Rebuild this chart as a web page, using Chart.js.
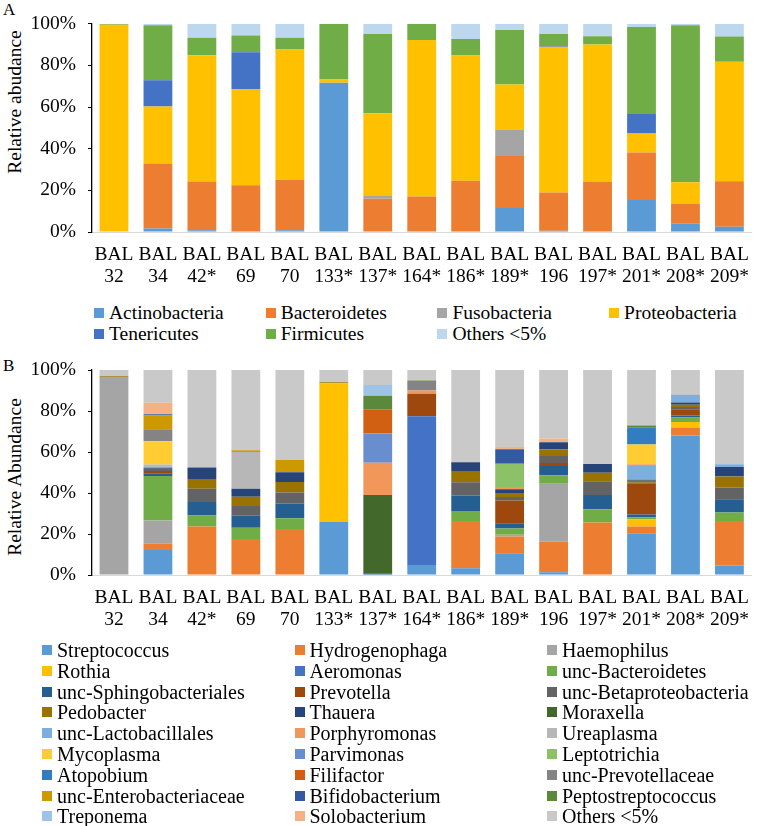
<!DOCTYPE html>
<html>
<head>
<meta charset="utf-8">
<script src="https://cdn.jsdelivr.net/npm/chart.js"></script>
<style>
  body { margin: 0; width: 760px; height: 826px; background: #fff; position: relative; overflow: hidden;
         font-family: "Liberation Serif", "Times New Roman", serif; color: #000; }
  .box { position: absolute; left: 0; width: 760px; height: 300px; }
  .tag { position: absolute; left: 3px; font-size: 17px; line-height: 1; }
  .ytitle { position: absolute; transform: translate(-50%, -50%) rotate(-90deg); white-space: nowrap; font-size: 19.5px; }
  .leg { position: absolute; white-space: nowrap; line-height: 20px; padding-left: 15px; }
  .leg i { position: absolute; left: 0; top: 5px; width: 10px; height: 10px; }
</style>
</head>
<body>
<div class="tag" style="top:1px">A</div>
<div class="ytitle" style="left:15px; top:102px">Relative abudance</div>
<div class="box" style="top:0"><canvas id="chartA" width="760" height="300"></canvas></div>
<div id="legendA"></div>

<div class="tag" style="top:357px">B</div>
<div class="ytitle" style="left:15px; top:477px">Relative Abundance</div>
<div class="box" style="top:340px"><canvas id="chartB" width="760" height="300"></canvas></div>
<div id="legendB"></div>

<script>
// Samples (x categories)
const samples = [['BAL', '32'], ['BAL', '34'], ['BAL', '42*'], ['BAL', '69'], ['BAL', '70'], ['BAL', '133*'],
    ['BAL', '137*'], ['BAL', '164*'], ['BAL', '186*'], ['BAL', '189*'], ['BAL', '196'], ['BAL', '197*'],
    ['BAL', '201*'], ['BAL', '208*'], ['BAL', '209*']];
const yTicks = [0, 20, 40, 60, 80, 100];

// Panel A - phylum level (%)
const actinobacteria = [0, 1.7, 0.8, 0.5, 0.8, 71.6, 0.3, 0, 0.5, 11.5, 0.6, 0.5, 15.4, 4.0, 2.5];
const bacteroidetes  = [0, 31.2, 23.5, 22.0, 24.3, 0, 15.7, 17.0, 24.1, 25.0, 18.4, 23.5, 22.8, 9.5, 21.9];
const fusobacteria   = [0, 0, 0, 0, 0, 0, 1.3, 0, 0, 12.5, 0, 0, 0, 0, 0];
const proteobacteria = [99.5, 27.4, 60.5, 46.1, 62.5, 1.6, 39.7, 75.2, 60.1, 21.8, 69.9, 66.0, 9.1, 10.4, 57.3];
const tenericutes    = [0, 12.6, 0, 17.7, 0, 0, 0, 0, 0, 0, 0.4, 0, 9.4, 0, 0.3];
const firmicutes     = [0.3, 26.3, 8.5, 8.0, 5.6, 26.8, 38.1, 7.8, 8.0, 26.2, 5.7, 4.0, 41.7, 75.3, 11.8];
const othersA        = [0.2, 0.8, 6.7, 5.7, 6.8, 0, 4.9, 0, 7.3, 3.0, 5.0, 6.0, 1.6, 0.8, 6.2];

const phylumNames  = ['Actinobacteria', 'Bacteroidetes', 'Fusobacteria', 'Proteobacteria', 'Tenericutes', 'Firmicutes', 'Others <5%'];
const phylumSeries = [actinobacteria, bacteroidetes, fusobacteria, proteobacteria, tenericutes, firmicutes, othersA];
const phylumColors = ['#5B9BD5', '#ED7D31', '#A5A5A5', '#FFC000', '#4472C4', '#70AD47', '#BDD7EE'];

// Panel B - genus level (%)
const streptococcus      = [0, 12.2, 0, 0.3, 0.3, 25.9, 0, 4.9, 3.3, 10.6, 1.3, 0, 20.4, 68.0, 4.6];
const hydrogenophaga     = [0, 3.0, 23.7, 17.3, 22.2, 0, 0, 0, 23.1, 8.2, 14.9, 25.6, 3.3, 3.9, 21.7];
const haemophilus        = [96.6, 11.4, 0, 0, 0, 0, 0, 0, 0, 0.8, 28.3, 0, 0, 0, 0];
const rothia             = [0, 0, 0, 0, 0, 67.6, 0, 0, 0, 0, 0, 0, 3.5, 2.7, 0];
const aeromonas          = [0, 0, 0, 0, 0, 0, 0, 72.6, 0, 0, 0, 0, 0, 0, 0];
const uncBacteroidetes   = [0, 21.7, 5.3, 5.4, 5.2, 0, 0, 0, 4.8, 3.1, 4.1, 6.5, 1.0, 2.2, 4.2];
const uncSphingobact     = [0, 1.1, 6.6, 5.9, 7.2, 0, 0.8, 0, 7.6, 2.6, 4.6, 6.9, 1.3, 1.0, 6.4];
const prevotella         = [0, 1.3, 0, 0, 0, 0, 0, 10.9, 0, 11.1, 1.4, 0, 15.0, 3.1, 0];
const uncBetaproteo      = [0, 1.1, 6.5, 4.7, 5.4, 0, 0, 0, 6.4, 1.6, 3.5, 6.7, 0.5, 1.0, 5.8];
const pedobacter         = [0.3, 0, 4.7, 4.6, 5.1, 0.5, 0, 0, 5.2, 2.0, 3.2, 4.2, 1.0, 1.2, 5.4];
const thauera            = [0, 0.5, 5.7, 3.9, 4.7, 0, 0, 0, 4.6, 1.8, 3.5, 4.3, 0.5, 1.1, 4.6];
const moraxella          = [0, 0, 0, 0, 0, 0, 38.2, 0, 0, 0, 0, 0, 0, 0, 0];
const uncLactobacillales = [0, 0.5, 0, 0, 0, 0, 0, 0, 0, 0, 0, 0, 6.7, 3.9, 1.3];
const porphyromonas      = [0, 0, 0, 0, 0, 0, 15.8, 1.6, 0, 1.1, 0, 0, 0.8, 0, 0];
const ureaplasma         = [0, 1.1, 0, 17.9, 0, 0, 0, 0, 0, 0, 0, 0, 0, 0, 0];
const mycoplasma         = [0, 11.4, 0, 0, 0, 0, 0, 0, 0, 0, 0, 0, 9.6, 0, 0];
const parvimonas         = [0, 0, 0, 0, 0, 0, 14.2, 0, 0, 0, 0, 0, 0, 0, 0];
const leptotrichia       = [0, 0, 0, 0, 0, 0, 0, 0, 0, 11.4, 0, 0, 0, 0, 0];
const atopobium          = [0, 0, 0, 0, 0, 0, 0, 0, 0, 0, 0, 0, 8.5, 0, 0];
const filifactor         = [0, 0, 0, 0, 0, 0, 11.9, 0, 0, 0, 0, 0, 0, 0, 0];
const uncPrevotellaceae  = [0, 5.8, 0, 0, 0, 0, 0, 4.6, 0, 0, 0, 0, 0, 0, 0];
const uncEnterobact      = [0, 6.7, 0, 0.8, 6.0, 0, 0, 0, 0, 0, 0, 0, 0, 0, 0];
const bifidobacterium    = [0, 0.6, 0, 0, 0, 0, 0, 0, 0, 7.0, 0, 0, 0, 0, 0];
const peptostreptococcus = [0, 0, 0, 0, 0, 0, 6.5, 0.3, 0, 0, 0, 0, 0.8, 0, 0];
const treponema          = [0, 0, 0, 0, 0, 0, 5.3, 0, 0, 0, 0, 0, 0, 0, 0];
const solobacterium      = [0, 5.6, 0, 0, 0, 0, 0, 0, 0, 1.2, 1.8, 0, 0, 0.5, 0];
const othersB            = [3.1, 16.0, 47.5, 39.2, 43.9, 6.0, 7.3, 5.1, 45.0, 37.5, 33.4, 45.8, 27.1, 11.4, 46.0];

const genusNames = ['Streptococcus', 'Hydrogenophaga', 'Haemophilus', 'Rothia', 'Aeromonas', 'unc-Bacteroidetes',
    'unc-Sphingobacteriales', 'Prevotella', 'unc-Betaproteobacteria', 'Pedobacter', 'Thauera', 'Moraxella',
    'unc-Lactobacillales', 'Porphyromonas', 'Ureaplasma', 'Mycoplasma', 'Parvimonas', 'Leptotrichia',
    'Atopobium', 'Filifactor', 'unc-Prevotellaceae', 'unc-Enterobacteriaceae', 'Bifidobacterium', 'Peptostreptococcus',
    'Treponema', 'Solobacterium', 'Others <5%'];
const genusSeries = [streptococcus, hydrogenophaga, haemophilus, rothia, aeromonas, uncBacteroidetes,
    uncSphingobact, prevotella, uncBetaproteo, pedobacter, thauera, moraxella,
    uncLactobacillales, porphyromonas, ureaplasma, mycoplasma, parvimonas, leptotrichia,
    atopobium, filifactor, uncPrevotellaceae, uncEnterobact, bifidobacterium, peptostreptococcus,
    treponema, solobacterium, othersB];
const genusColors = ['#5B9BD5', '#ED7D31', '#A5A5A5', '#FFC000', '#4472C4', '#70AD47',
    '#255E91', '#9E480E', '#636363', '#997300', '#264478', '#43682B',
    '#7CAFDD', '#F1975A', '#B7B7B7', '#FFCD33', '#698ED0', '#8CC168',
    '#327DC2', '#D26012', '#848484', '#CC9A00', '#335AA1', '#5A8A39',
    '#9DC3E6', '#F4B183', '#C9C9C9'];

const serif = '"Liberation Serif", "Times New Roman", serif';

// Build a stacked bar chart
function stackedChart(id, names, series, colors, padTop, xHeight) {
    const ctx = document.getElementById(id).getContext('2d');
    return new Chart(ctx, {
        type: 'bar',
        data: {
            labels: samples,
            datasets: names.map((name, i) => ({
                label: name,
                data: series[i],
                backgroundColor: colors[i],
                borderWidth: 0,
                categoryPercentage: 1,
                barPercentage: 0.655
            }))
        },
        options: {
            responsive: false,
            animation: false,
            devicePixelRatio: 1,
            layout: { padding: { top: padTop, right: 2, bottom: 0, left: 0 } },
            plugins: { legend: { display: false }, tooltip: { enabled: false } },
            scales: {
                x: {
                    stacked: true,
                    afterFit: s => { s.height = xHeight; },
                    grid: { display: false, drawTicks: false },
                    border: { color: '#D9D9D9', width: 1 },
                    ticks: { color: '#000', padding: 11, maxRotation: 0, autoSkip: false,
                             font: { family: serif, size: 19.5, lineHeight: 1.17 } }
                },
                y: {
                    stacked: true,
                    min: 0,
                    max: 100,
                    afterFit: s => { s.width = 92; },
                    afterBuildTicks: s => { s.ticks = yTicks.map(v => ({ value: v })); },
                    grid: { drawOnChartArea: false, drawTicks: true, tickLength: 4, color: '#000' },
                    border: { color: '#000', width: 1.3 },
                    ticks: { color: '#000', padding: 12, callback: v => v + '%',
                             font: { family: serif, size: 19.5 } }
                }
            }
        }
    });
}

// HTML legend
function buildLegend(id, names, colors, cols, x0, step, y0, rowGap, fontSize) {
    const box = document.getElementById(id);
    names.forEach((name, i) => {
        const d = document.createElement('div');
        d.className = 'leg';
        d.style.left = (x0 + (i % cols) * step) + 'px';
        d.style.top = (y0 + Math.floor(i / cols) * rowGap - 10) + 'px';
        d.style.fontSize = fontSize + 'px';
        d.innerHTML = '<i style="background:' + colors[i] + '"></i>' + name;
        box.appendChild(d);
    });
}

stackedChart('chartA', phylumNames, phylumSeries, phylumColors, 22, 68);
stackedChart('chartB', genusNames, genusSeries, genusColors, 30, 65);
buildLegend('legendA', phylumNames, phylumColors, 4, 94, 171.7, 313, 21, 19.5);
buildLegend('legendB', genusNames, genusColors, 3, 42, 252.5, 650, 20.8, 20);
</script>
</body>
</html>
